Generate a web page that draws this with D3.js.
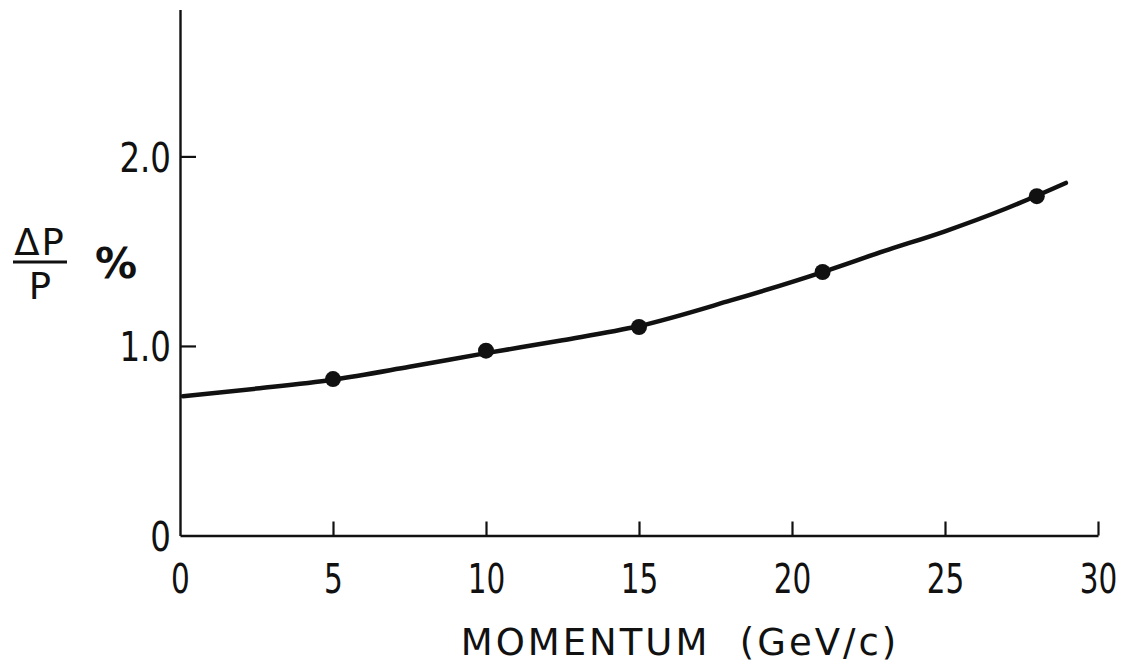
<!DOCTYPE html>
<html>
<head>
<meta charset="utf-8">
<script src="https://cdn.jsdelivr.net/npm/d3@7"></script>
<style>
  body { margin: 0; background: #fff; }
  text { fill: #111; }
</style>
</head>
<body>
<div id="chart"></div>
<script>
// measured points (momentum GeV/c, dP/P %)
var pointMomentum = [5, 10, 15, 21, 28];
var pointRes = [0.825, 0.975, 1.10, 1.39, 1.79];

// smooth curve through the points
var curveMomentum = [0.1, 2.5, 5, 7.5, 10, 12.5, 15, 18, 21, 23, 25, 27, 28.95];
var curveRes = [0.735, 0.775, 0.822, 0.89, 0.962, 1.03, 1.105, 1.24, 1.39, 1.50, 1.605, 1.725, 1.86];

var xTicks = [0, 5, 10, 15, 20, 25, 30];
var yTicks = [0, 1, 2];
var yTickLabels = ["0", "1.0", "2.0"];

var W = 1135, H = 668;
var tickFont = "'DejaVu Sans Condensed', sans-serif";
var labelFont = "'DejaVu Sans', sans-serif";

var svg = d3.select("#chart")
  .append("svg")
    .attr("width", W)
    .attr("height", H);

var x = d3.scaleLinear().domain([0, 30]).range([180, 1098]);
var y = d3.scaleLinear().domain([0, 2.775]).range([535.5, 9.5]);

// the lettering on the figure is narrow, squeeze the tick labels a bit
function narrow(sel, f) {
  sel.each(function() {
    var w = this.getComputedTextLength();
    d3.select(this).attr("textLength", w * f).attr("lengthAdjust", "spacingAndGlyphs");
  });
}

// X axis, ticks point up into the plot
var gx = svg.append("g")
  .attr("transform", "translate(0," + y(0) + ")")
  .call(d3.axisBottom(x).tickValues(xTicks).tickSizeInner(-14).tickSizeOuter(0));
gx.select(".domain").attr("stroke", "#111").attr("stroke-width", 2.4);
gx.selectAll(".tick line").attr("stroke", "#111").attr("stroke-width", 2.2)
  .filter(function(d) { return d === 0; }).remove();
gx.selectAll(".tick text")
  .attr("y", 57).attr("dy", null)
  .style("font-family", tickFont).style("font-size", "41px")
  .call(narrow, 0.8);

// Y axis, ticks point right
var gy = svg.append("g")
  .attr("transform", "translate(" + x(0) + ",0)")
  .call(d3.axisLeft(y).tickValues(yTicks)
    .tickFormat(function(d, i) { return yTickLabels[i]; })
    .tickSizeInner(-16).tickSizeOuter(0));
gy.select(".domain").attr("stroke", "#111").attr("stroke-width", 2.4);
gy.selectAll(".tick line").attr("stroke", "#111").attr("stroke-width", 2.2)
  .filter(function(d) { return d === 0; }).remove();
gy.selectAll(".tick text")
  .attr("x", -9).attr("dy", "0.36em")
  .style("font-family", tickFont).style("font-size", "41px")
  .call(narrow, 0.88);

// the curve
var curveData = curveMomentum.map(function(m, i) { return {m: m, r: curveRes[i]}; });
svg.append("path")
  .datum(curveData)
  .attr("fill", "none")
  .attr("stroke", "#111")
  .attr("stroke-width", 4.5)
  .attr("stroke-linecap", "round")
  .attr("d", d3.line()
    .x(function(d) { return x(d.m); })
    .y(function(d) { return y(d.r); })
    .curve(d3.curveMonotoneX));

// data points
svg.selectAll(".pt")
  .data(pointMomentum)
  .enter().append("circle")
    .attr("class", "pt")
    .attr("cx", function(d) { return x(d); })
    .attr("cy", function(d, i) { return y(pointRes[i]); })
    .attr("r", 8)
    .style("fill", "#111");

// x axis title
svg.append("text")
  .attr("x", 680).attr("y", 655)
  .attr("text-anchor", "middle")
  .style("font-family", labelFont).style("font-size", "37px")
  .style("letter-spacing", "3px")
  .style("white-space", "pre")
  .text("MOMENTUM  (GeV/c)");

// y axis title: ΔP / P  %
svg.append("text")
  .attr("x", 40).attr("y", 255)
  .attr("text-anchor", "middle")
  .style("font-family", labelFont).style("font-size", "37px")
  .style("letter-spacing", "2px")
  .text("ΔP");
svg.append("line")
  .attr("x1", 13).attr("x2", 67).attr("y1", 262).attr("y2", 262)
  .attr("stroke", "#111").attr("stroke-width", 3);
svg.append("text")
  .attr("x", 40).attr("y", 299)
  .attr("text-anchor", "middle")
  .style("font-family", labelFont).style("font-size", "37px")
  .text("P");
svg.append("text")
  .attr("x", 95).attr("y", 278)
  .style("font-family", labelFont).style("font-size", "42px")
  .style("font-weight", "bold")
  .text("%");
</script>
</body>
</html>
